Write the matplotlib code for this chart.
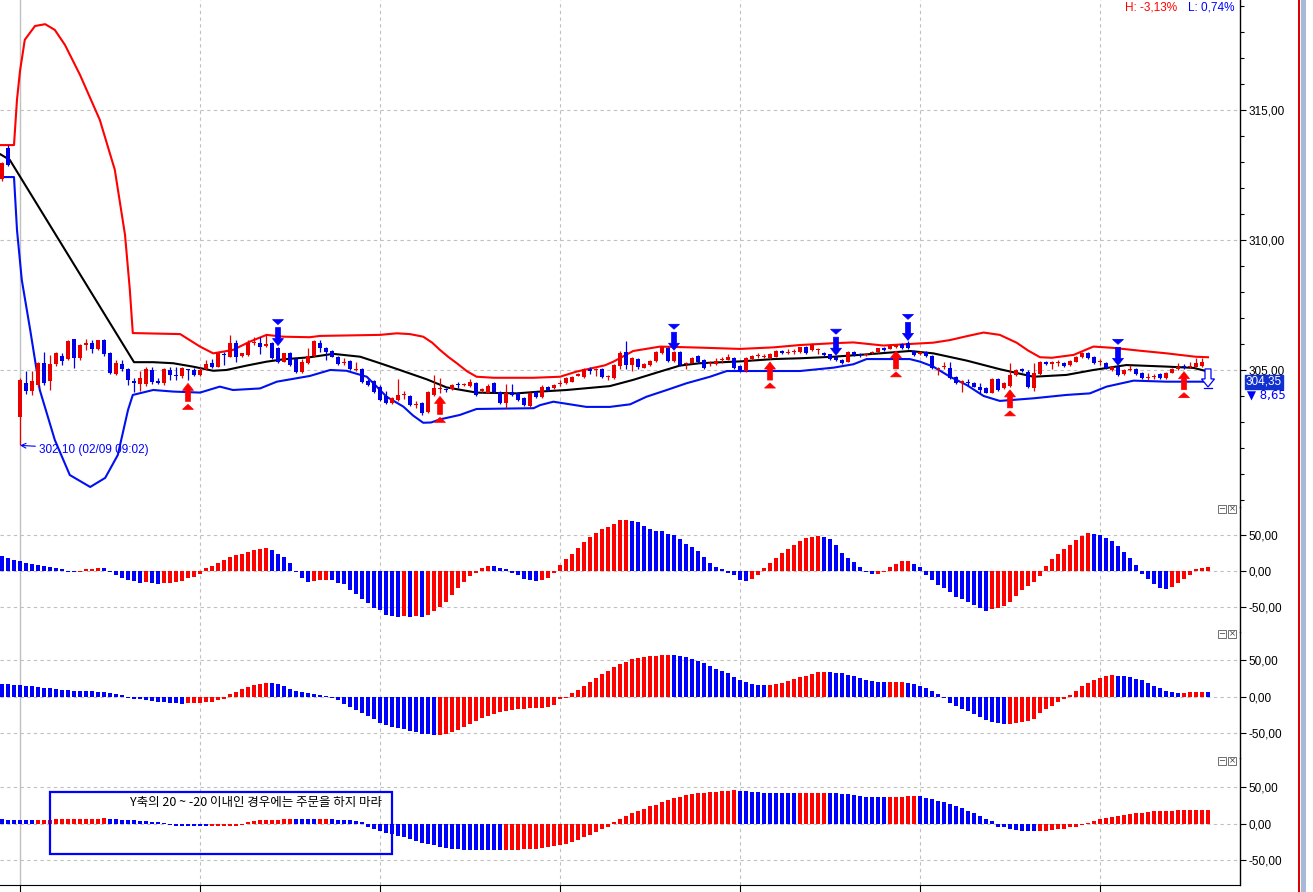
import numpy as np
import matplotlib
matplotlib.use("Agg")
import matplotlib.pyplot as plt
from matplotlib.patches import Polygon, Rectangle
from matplotlib.ticker import FixedLocator, MultipleLocator, FuncFormatter

plt.rcParams['font.family'] = ['Liberation Sans', 'DejaVu Sans']

nan = np.nan

# candles (one per bar, bar 2 and the last slot are empty)
opens = [
    312.35, 313.55, nan, 303.19, 304.49, 304.21, 304.42, 305.26, 304.56, 305.22,
    305.54, 305.41, 306.18, 305.45, 305.95, 306.05, 305.81, 306.15, 305.64, 304.85,
    305.22, 305.03, 304.59, 304.46, 304.46, 305.00, 304.58, 304.49, 305.00, 304.82,
    304.77, 305.02, 305.00, 304.81, 305.03, 305.28, 305.13, 305.62, 305.51, 306.03,
    305.54, 305.58, 306.03, 306.03, 305.94, 306.03, 305.83, 305.32, 305.64, 305.41,
    304.94, 305.26, 305.54, 306.05, 305.83, 305.74, 305.51, 305.28, 305.35, 304.98,
    305.03, 304.59, 304.58, 304.36, 304.00, 303.74, 303.85, 304.02, 304.00, 303.66,
    303.74, 303.40, 304.04, 304.28, 304.25, 304.26, 304.45, 304.42, 304.38, 304.51,
    304.19, 304.13, 304.49, 304.17, 303.72, 304.15, 304.13, 303.91, 303.62, 304.17,
    303.97, 304.36, 304.30, 304.45, 304.49, 304.55, 304.78, 304.74, 305.03, 305.00,
    305.03, 304.72, 304.68, 305.17, 305.70, 305.19, 305.41, 305.09, 305.19, 305.35,
    305.64, 305.83, 305.35, 305.70, 305.22, 305.28, 305.55, 305.38, 305.23, 305.23,
    305.38, 305.40, 305.45, 305.17, 304.96, 305.42, 305.52, 305.50, 305.45, 305.51,
    305.73, 305.66, 305.68, 305.70, 305.90, 305.77, 305.75, 305.67, 305.60, 305.50,
    305.38, 305.32, 305.70, 305.60, 305.58, 305.64, 305.68, 305.86, 305.82, 305.90,
    306.00, 306.05, 305.73, 305.60, 305.68, 305.54, 305.03, 305.10, 305.06, 304.74,
    304.48, 304.55, 304.49, 304.36, 304.29, 304.13, 304.64, 304.29, 304.38, 304.81,
    305.03, 304.94, 304.29, 304.85, 305.32, 305.22, 305.28, 305.28, 305.19, 305.32,
    305.49, 305.64, 305.49, 305.30, 305.28, 305.00, 305.10, 304.85, 304.98, 305.03,
    304.90, 304.70, 304.72, 304.84, 304.68, 304.90, 305.03, 305.15, 305.12, 305.13,
    305.15, nan]
highs = [
    313.00, 313.65, nan, 304.70, 304.97, 304.97, 305.30, 305.70, 305.58, 305.69,
    305.64, 306.15, 306.20, 305.98, 306.20, 306.15, 306.17, 306.20, 305.70, 305.38,
    305.38, 305.08, 304.70, 304.95, 305.12, 305.12, 304.70, 305.08, 305.12, 305.10,
    305.12, 305.04, 305.08, 305.12, 305.38, 305.41, 305.67, 305.70, 306.35, 306.15,
    305.67, 306.15, 306.25, 306.25, 306.40, 306.06, 305.90, 305.67, 305.68, 305.45,
    305.41, 305.85, 306.15, 306.15, 305.87, 305.78, 305.55, 305.45, 305.40, 305.32,
    305.08, 304.65, 304.62, 304.42, 304.20, 303.95, 304.64, 304.20, 304.04, 303.80,
    303.78, 304.20, 304.80, 304.70, 304.30, 304.45, 304.55, 304.50, 304.65, 304.55,
    304.32, 304.45, 304.53, 304.20, 304.45, 304.45, 304.17, 303.95, 304.17, 304.21,
    304.42, 304.40, 304.46, 304.60, 304.72, 304.78, 304.90, 305.07, 305.10, 305.06,
    305.07, 304.82, 305.22, 305.72, 306.10, 305.48, 305.45, 305.26, 305.38, 305.73,
    305.93, 305.87, 305.72, 305.74, 305.30, 305.50, 305.58, 305.42, 305.35, 305.45,
    305.50, 305.62, 305.49, 305.20, 305.49, 305.59, 305.65, 305.62, 305.64, 305.77,
    305.76, 305.80, 305.80, 305.90, 305.93, 306.02, 305.85, 305.70, 305.63, 305.53,
    305.41, 305.72, 305.73, 305.65, 305.66, 305.72, 305.86, 305.90, 305.98, 306.00,
    306.05, 306.10, 305.77, 305.72, 305.72, 305.58, 305.10, 305.30, 305.30, 304.78,
    304.62, 304.65, 304.53, 304.50, 304.33, 304.68, 304.68, 304.52, 305.26, 305.04,
    305.07, 304.98, 305.26, 305.36, 305.36, 305.36, 305.40, 305.32, 305.40, 305.55,
    305.68, 305.68, 305.53, 305.42, 305.32, 305.17, 305.14, 305.04, 305.20, 305.07,
    304.94, 304.90, 304.85, 304.88, 304.94, 305.07, 305.27, 305.22, 305.30, 305.45,
    305.45, nan]
lows = [
    312.25, 312.85, nan, 302.10, 304.08, 304.05, 304.35, 304.42, 304.23, 305.14,
    305.18, 305.38, 305.06, 305.40, 305.75, 305.64, 305.78, 305.55, 304.85, 304.80,
    304.95, 304.42, 304.17, 304.20, 304.40, 304.45, 304.45, 304.42, 304.62, 304.60,
    304.70, 304.60, 304.78, 304.75, 305.00, 305.06, 305.10, 305.20, 305.48, 305.32,
    305.50, 305.54, 305.95, 305.60, 305.90, 305.41, 305.26, 305.29, 305.15, 304.90,
    304.90, 305.22, 305.50, 305.70, 305.40, 305.48, 305.18, 305.18, 305.00, 304.95,
    304.50, 304.38, 304.12, 303.80, 303.70, 303.70, 303.82, 303.90, 303.60, 303.55,
    303.28, 303.36, 304.00, 304.10, 304.15, 304.22, 304.30, 304.38, 304.35, 304.00,
    304.15, 304.10, 304.13, 303.70, 303.55, 304.00, 303.80, 303.60, 303.58, 303.93,
    303.93, 304.20, 304.27, 304.40, 304.46, 304.52, 304.75, 304.70, 304.85, 304.75,
    304.68, 304.60, 304.65, 305.05, 305.05, 304.95, 305.05, 305.06, 305.16, 305.32,
    305.60, 305.32, 305.32, 305.15, 305.05, 305.25, 305.25, 305.02, 305.15, 305.18,
    305.25, 305.37, 305.02, 304.92, 304.93, 305.39, 305.45, 305.45, 305.42, 305.48,
    305.60, 305.60, 305.63, 305.67, 305.63, 305.74, 305.60, 305.55, 305.38, 305.34,
    305.23, 305.29, 305.55, 305.50, 305.52, 305.60, 305.65, 305.72, 305.79, 305.85,
    305.82, 305.80, 305.55, 305.57, 305.50, 305.02, 304.80, 305.05, 304.65, 304.45,
    304.17, 304.40, 304.33, 304.10, 304.10, 304.10, 304.20, 304.26, 304.35, 304.78,
    304.92, 304.30, 304.20, 304.82, 305.18, 305.05, 305.15, 305.12, 305.16, 305.29,
    305.46, 305.42, 305.22, 305.20, 305.02, 304.97, 304.78, 304.82, 304.95, 304.82,
    304.65, 304.60, 304.65, 304.65, 304.65, 304.87, 305.00, 305.05, 305.09, 305.10,
    305.12, nan]
closes = [
    312.95, 312.90, nan, 304.62, 304.21, 304.58, 305.26, 304.49, 305.22, 305.64,
    305.36, 306.13, 305.45, 305.96, 306.02, 305.80, 306.15, 305.60, 304.87, 305.26,
    305.03, 304.62, 304.49, 304.68, 305.03, 304.55, 304.49, 305.03, 304.81, 304.76,
    305.06, 304.98, 304.81, 305.00, 305.23, 305.13, 305.64, 305.58, 306.03, 305.51,
    305.64, 306.03, 306.08, 305.90, 305.98, 305.45, 305.32, 305.64, 305.19, 304.94,
    305.32, 305.54, 306.12, 305.83, 305.71, 305.51, 305.22, 305.32, 305.03, 305.03,
    304.55, 304.42, 304.17, 303.85, 303.74, 303.91, 304.04, 304.06, 303.65, 303.70,
    303.33, 304.17, 304.29, 304.32, 304.22, 304.42, 304.42, 304.46, 304.55, 304.04,
    304.28, 304.38, 304.17, 303.74, 304.10, 304.05, 303.85, 303.65, 304.13, 303.97,
    304.36, 304.23, 304.42, 304.50, 304.68, 304.74, 304.86, 305.03, 304.95, 305.04,
    304.72, 304.76, 305.19, 305.67, 305.19, 305.45, 305.13, 305.22, 305.35, 305.70,
    305.90, 305.35, 305.68, 305.19, 305.27, 305.47, 305.29, 305.06, 305.28, 305.33,
    305.43, 305.50, 305.06, 304.96, 305.45, 305.55, 305.56, 305.55, 305.60, 305.73,
    305.64, 305.70, 305.72, 305.87, 305.67, 305.99, 305.80, 305.58, 305.42, 305.38,
    305.27, 305.68, 305.58, 305.56, 305.62, 305.68, 305.83, 305.75, 305.95, 305.96,
    305.85, 305.85, 305.58, 305.68, 305.55, 305.06, 305.07, 305.15, 304.68, 304.49,
    304.58, 304.49, 304.36, 304.23, 304.13, 304.64, 304.23, 304.49, 304.81, 305.00,
    304.95, 304.36, 304.87, 305.32, 305.22, 305.32, 305.32, 305.15, 305.36, 305.51,
    305.64, 305.45, 305.26, 305.34, 305.06, 305.13, 304.81, 305.00, 305.02, 304.85,
    304.68, 304.74, 304.76, 304.68, 304.90, 305.03, 305.13, 305.12, 305.16, 305.26,
    305.32, nan]

# envelope lines (bar position, price)
upper_pos = [-0.3, 2.0, 2.5, 3.0, 3.8, 5.5, 7.2, 8.8, 10.5, 13.0, 16.3, 18.8, 20.5,
             21.3, 21.8, 29.7, 33.0, 35.2, 38.5, 41.3, 44.1, 46.9, 51.3, 53.0, 63.0,
             65.8, 68.0, 70.2, 71.7, 73.0, 74.4, 75.8, 77.5, 79.1, 82.0, 88.6, 93.0,
             95.8, 100.5, 101.9, 105.2, 109.7, 116.3, 123.0, 128.6, 133.0, 138.6,
             141.9, 146.9, 151.3, 155.2, 158.0, 160.8, 163.6, 166.3, 169.1, 171.0,
             173.0, 175.0, 178.6, 181.9, 185.2, 189.7, 194.1, 198.9, 201.0]
upper_val = [313.65, 313.65, 315.40, 316.50, 317.70, 318.23, 318.30, 318.08, 317.50,
             316.35, 314.62, 312.70, 310.20, 308.10, 306.42, 306.38, 305.90, 305.64,
             305.77, 306.09, 306.35, 306.28, 306.26, 306.31, 306.35, 306.41, 306.38,
             306.28, 306.05, 305.77, 305.50, 305.26, 304.95, 304.74, 304.70, 304.70,
             304.74, 304.94, 305.18, 305.32, 305.73, 305.90, 305.86, 305.81, 305.87,
             305.96, 306.03, 306.06, 305.94, 306.00, 306.05, 306.15, 306.30, 306.44,
             306.35, 306.05, 305.75, 305.49, 305.47, 305.58, 305.90, 305.85, 305.74,
             305.64, 305.51, 305.49]
mid_pos = [-0.3, 1.3, 22.0, 25.2, 28.5, 31.8, 35.2, 37.4, 40.8, 44.1, 46.9, 51.3,
           55.2, 59.7, 63.0, 66.3, 70.8, 74.1, 79.1, 85.8, 89.7, 94.1, 101.3, 105.2,
           109.7, 113.0, 116.3, 123.0, 128.6, 133.0, 138.6, 144.1, 151.3, 155.2,
           160.8, 166.3, 171.9, 177.4, 181.9, 187.4, 194.1, 198.6, 200.5]
mid_val = [313.30, 313.08, 305.30, 305.30, 305.26, 305.13, 304.97, 305.00, 305.17,
           305.32, 305.41, 305.49, 305.62, 305.51, 305.26, 305.00, 304.64, 304.33,
           304.13, 304.10, 304.17, 304.23, 304.38, 304.62, 304.94, 305.17, 305.26,
           305.33, 305.42, 305.45, 305.51, 305.60, 305.73, 305.64, 305.36, 305.03,
           304.74, 304.81, 305.00, 305.19, 305.13, 305.08, 304.97]
lower_pos = [-0.3, 2.0, 2.5, 3.3, 4.7, 6.3, 8.8, 11.3, 14.7, 17.2, 19.3, 21.0, 21.8,
             25.2, 28.5, 33.0, 36.3, 38.5, 43.0, 45.8, 51.3, 54.7, 57.4, 60.8, 62.5,
             64.1, 66.9, 68.5, 70.2, 71.5, 73.0, 76.3, 79.1, 88.6, 89.7, 91.9, 97.4,
             101.3, 104.7, 107.4, 110.8, 114.1, 118.0, 120.8, 133.0, 138.6, 141.9,
             144.1, 151.3, 153.0, 155.2, 158.0, 160.8, 163.6, 166.3, 171.9, 177.4,
             181.3, 184.1, 188.6, 194.1, 199.7, 201.0]
lower_val = [312.42, 312.42, 310.38, 308.46, 306.54, 304.23, 302.31, 300.96, 300.50,
             300.85, 301.73, 303.46, 304.04, 304.23, 304.17, 304.13, 304.36, 304.23,
             304.29, 304.55, 304.77, 305.00, 304.97, 304.74, 304.35, 303.97, 303.59,
             303.25, 302.97, 302.98, 303.10, 303.27, 303.50, 303.53, 303.65, 303.78,
             303.58, 303.58, 303.68, 303.97, 304.23, 304.49, 304.74, 304.96, 304.96,
             305.09, 305.22, 305.42, 305.42, 305.32, 305.13, 304.74, 304.42, 304.00,
             303.81, 303.91, 304.04, 304.10, 304.36, 304.59, 304.55, 304.55, 304.55]

# oscillator histograms
osc1 = [
    20.4, 17.6, 15.3, 13.9, 11.0, 9.6, 8.2, 6.8, 5.4, 4.0,
    2.6, -1.0, -1.5, -1.2, 2.6, 2.8, 4.0, 3.9, -1.5, -5.9,
    -9.6, -12.0, -13.8, -16.2, -15.7, -17.1, -18.5, -17.1, -17.0, -15.7,
    -14.3, -10.1, -8.2, -4.5, 4.0, 6.8, 11.0, 15.3, 19.5, 22.3,
    23.7, 26.5, 29.3, 30.8, 32.2, 29.3, 23.7, 19.5, 11.0, -1.5,
    -10.1, -15.3, -13.9, -12.9, -12.8, -13.0, -16.2, -18.5, -26.3, -32.2,
    -39.2, -44.8, -51.0, -54.7, -60.4, -62.7, -63.2, -63.0, -63.3, -63.1,
    -63.4, -61.7, -56.1, -50.5, -43.4, -33.6, -23.7, -15.3, -6.8, -2.6,
    4.0, 6.8, 6.7, 4.0, 2.6, -2.1, -5.4, -11.5, -12.4, -13.8,
    -12.4, -10.1, -2.6, 8.2, 16.7, 23.7, 32.2, 40.6, 47.7, 53.3,
    58.9, 61.7, 65.9, 70.2, 70.3, 70.1, 67.4, 63.1, 58.9, 56.1,
    56.0, 51.9, 50.5, 44.8, 37.8, 33.6, 27.9, 19.5, 11.0, 5.4,
    2.6, -2.1, -5.4, -12.4, -13.8, -11.5, -5.9, 4.0, 11.0, 18.1,
    25.1, 30.8, 36.4, 42.0, 46.2, 47.7, 49.1, 47.6, 44.8, 36.4,
    25.1, 18.1, 12.4, 5.4, -2.0, -4.0, -3.5, -2.0, 5.4, 9.6,
    13.9, 14.0, 9.6, 5.4, -5.4, -12.9, -20.0, -23.7, -29.3, -36.4,
    -39.2, -43.4, -47.7, -51.9, -56.1, -53.3, -51.9, -49.1, -43.4, -35.0,
    -26.5, -20.9, -14.8, -6.8, 7.3, 16.7, 23.7, 30.8, 36.4, 43.4,
    49.1, 53.3, 51.9, 49.5, 46.2, 42.0, 35.0, 26.5, 18.1, 8.2,
    -4.0, -11.0, -18.1, -23.7, -25.1, -22.3, -16.7, -11.0, -5.4, 2.6,
    4.0, 5.4]
osc2 = [
    17.8, 17.7, 16.4, 16.3, 15.1, 15.0, 13.7, 12.3, 12.2, 11.0,
    9.6, 9.5, 8.2, 8.1, 8.0, 7.9, 6.8, 6.7, 5.5, 4.1,
    2.7, -1.4, -2.3, -2.4, -3.7, -5.0, -6.4, -6.5, -7.8, -7.9,
    -9.1, -7.8, -7.7, -7.6, -6.4, -6.3, -3.7, -2.3, 4.6, 7.3,
    11.4, 14.2, 16.9, 18.3, 19.6, 19.5, 18.3, 15.5, 11.4, 8.7,
    7.3, 5.9, 4.6, 3.2, 1.4, -1.4, -4.1, -9.1, -13.2, -17.4,
    -21.5, -25.6, -29.7, -35.2, -37.9, -41.0, -43.0, -44.5, -46.5, -47.9,
    -50.5, -51.4, -51.9, -51.8, -50.4, -47.6, -44.8, -40.6, -36.4, -33.6,
    -29.4, -26.6, -23.8, -21.0, -19.6, -18.2, -16.8, -16.6, -15.4, -15.3,
    -15.2, -14.0, -11.2, -2.8, -0.9, 5.6, 9.8, 15.4, 21.0, 26.6,
    30.8, 35.0, 40.6, 44.8, 47.6, 51.8, 53.2, 54.6, 56.0, 56.1,
    57.4, 57.5, 57.4, 56.0, 54.6, 51.8, 49.0, 46.2, 42.0, 37.8,
    35.0, 32.2, 28.0, 23.8, 21.0, 18.2, 16.8, 16.7, 16.8, 18.2,
    19.6, 22.0, 24.5, 26.8, 29.2, 32.0, 33.8, 33.9, 33.8, 32.9,
    32.8, 30.1, 28.8, 26.0, 23.3, 21.9, 20.5, 20.4, 20.5, 20.6,
    20.7, 19.2, 17.8, 15.1, 12.3, 8.2, 4.1, -1.4, -7.8, -11.9,
    -16.0, -18.7, -22.8, -26.9, -31.1, -33.8, -35.2, -36.5, -36.4, -35.2,
    -33.8, -32.4, -29.7, -21.5, -16.0, -11.9, -6.4, -2.3, 3.2, 8.2,
    15.1, 19.2, 23.3, 26.0, 28.8, 30.1, 28.8, 28.7, 27.4, 24.7,
    23.3, 19.2, 15.1, 12.3, 8.2, 6.8, 5.5, 5.6, 6.8, 6.9,
    7.0, 6.8]
osc3 = [
    6.2, 6.1, 6.0, 5.9, 5.8, 5.7, 5.9, 6.0, 6.1, 6.2,
    6.3, 6.4, 6.5, 6.6, 6.7, 7.4, 7.5, 7.6, 7.5, 7.4,
    6.0, 5.1, 5.0, 3.7, 3.6, 2.3, 2.2, 1.4, -2.0, -2.5,
    -2.8, -3.0, -3.2, -3.3, -3.4, -3.3, -3.2, -3.0, -2.8, -2.6,
    -2.0, 2.3, 3.7, 5.1, 5.2, 6.0, 6.1, 7.4, 7.5, 7.4,
    7.3, 7.2, 7.1, 7.2, 7.3, 7.2, 6.0, 5.9, 5.1, 3.7,
    2.3, -4.1, -6.9, -9.6, -11.8, -14.2, -16.5, -18.4, -21.1, -23.9,
    -25.7, -27.5, -29.4, -32.1, -33.0, -34.0, -34.9, -35.0, -35.8, -35.9,
    -36.0, -36.1, -36.2, -36.3, -36.2, -36.1, -35.0, -34.9, -34.0, -33.9,
    -33.0, -32.1, -30.3, -29.4, -27.5, -24.8, -22.0, -18.4, -14.7, -11.0,
    -7.3, -3.7, 2.8, 7.3, 11.0, 14.7, 17.4, 21.1, 24.8, 26.6,
    30.3, 33.0, 35.8, 37.6, 39.5, 40.4, 42.2, 43.1, 43.2, 44.1,
    45.0, 45.1, 45.9, 45.0, 44.6, 44.1, 43.6, 43.1, 42.8, 42.5,
    42.3, 42.1, 41.9, 42.0, 42.2, 42.5, 42.8, 43.1, 43.0, 42.2,
    41.3, 40.4, 39.5, 38.6, 37.6, 37.5, 37.4, 37.3, 37.4, 37.5,
    37.6, 37.7, 37.8, 37.7, 35.8, 34.0, 32.1, 30.3, 27.5, 24.8,
    22.0, 18.4, 14.7, 11.0, 7.3, 3.7, -3.7, -4.6, -6.4, -8.3,
    -9.2, -10.1, -10.2, -10.0, -9.2, -8.3, -7.3, -6.4, -4.6, -3.7,
    -1.8, 0.8, 4.6, 6.4, 8.3, 9.2, 11.0, 12.9, 13.8, 14.7,
    15.6, 16.5, 17.4, 17.5, 17.6, 18.4, 18.5, 19.3, 19.4, 19.5,
    19.6, 19.7]

buy_bars = [31, 73, 128, 149, 168, 197]
sell_bars = [46, 112, 139, 151, 186]
pending_bar, pending_level = 201, 305.04
low_bar, low_label = 3, "302,10 (02/09 09:02)"

price_ticks = [305, 310, 315]
osc_ticks = [-50, 0, 50]
grid_bars = [33, 63, 93, 123, 153, 183]
first_bar_line = 3

RED, BLUE = '#ff0000', '#0000ff'
C_RED, C_BLUE = '#e80000', '#0000e6'
GRID = '#c0c0c0'

W, H = 1313, 892
fig = plt.figure(figsize=(W / 100, H / 100), dpi=100)
fig.patch.set_facecolor('white')


def box(x0, y0, x1, y1):
    return [x0 / W, 1 - y1 / H, (x1 - x0) / W, (y1 - y0) / H]


XMIN, XMAX = -1 / 3, 206 + 1 / 3
PMIN, PMAX = 299.73, 319.23
AX_R = 1240

ax_p = fig.add_axes(box(0, 0, AX_R, 507))
ax1 = fig.add_axes(box(0, 507, AX_R, 632))
ax2 = fig.add_axes(box(0, 632, AX_R, 758))
ax3 = fig.add_axes(box(0, 758, AX_R, 885))

ax_p.set_ylim(PMIN, PMAX)
ax1.set_ylim(-84.7, 88.9)
ax2.set_ylim(-83.6, 89.0)
ax3.set_ylim(-83.6, 90.4)

fmt = FuncFormatter(lambda v, pos: f"{v:.2f}".replace(".", ","))

for ax in (ax_p, ax1, ax2, ax3):
    ax.set_xlim(XMIN, XMAX)
    ax.set_facecolor('none')
    for s in ('left', 'top', 'bottom'):
        ax.spines[s].set_visible(False)
    ax.spines['right'].set_color('black')
    ax.spines['right'].set_linewidth(1.0)
    ax.yaxis.tick_right()
    ax.yaxis.set_major_formatter(fmt)
    ax.tick_params(axis='y', direction='out', length=4, width=0.8,
                   labelsize=8.5, pad=2, colors='black')
    ax.tick_params(axis='x', bottom=False, labelbottom=False)
    ax.axvline(first_bar_line, color=GRID, lw=1.0, zorder=0)
    for b in grid_bars:
        ax.axvline(b, color=GRID, lw=0.8, ls=(0, (3, 3)), zorder=0)

ax_p.yaxis.set_major_locator(FixedLocator(price_ticks))
ax_p.yaxis.set_minor_locator(MultipleLocator(1))
ax_p.tick_params(axis='y', which='minor', direction='out', length=3, width=0.8)
for t in price_ticks:
    ax_p.axhline(t, color=GRID, lw=0.8, ls=(0, (3, 3)), zorder=0)
for ax in (ax1, ax2, ax3):
    ax.yaxis.set_major_locator(FixedLocator(osc_ticks))
    for t in osc_ticks:
        ax.axhline(t, color=GRID, lw=0.8, ls=(0, (3, 3)), zorder=0)

ax3.spines['bottom'].set_visible(True)
ax3.spines['bottom'].set_color('black')
ax3.xaxis.set_major_locator(FixedLocator([first_bar_line] + grid_bars))
ax3.tick_params(axis='x', bottom=True, direction='out', length=5, width=0.8,
                labelbottom=False)

PX_X = (XMAX - XMIN) / AX_R
PX_Y = (PMAX - PMIN) / 507

# envelope
ax_p.plot(upper_pos, upper_val, color=RED, lw=1.5, zorder=2)
ax_p.plot(mid_pos, mid_val, color='black', lw=1.5, zorder=2)
ax_p.plot(lower_pos, lower_val, color='#0010f0', lw=1.5, zorder=2)

# candles
o = np.array(opens)
h = np.array(highs)
l = np.array(lows)
c = np.array(closes)
idx = np.arange(len(o))
ok = ~np.isnan(o)
up = c > o
ccol = np.where(up, C_RED, C_BLUE)
ax_p.vlines(idx[ok], l[ok], h[ok], colors=ccol[ok], lw=0.9, zorder=3)
bottom = np.minimum(o, c)
height = np.maximum(np.abs(c - o), PX_Y * 1.2)
ax_p.bar(idx[ok], height[ok], bottom=bottom[ok], width=0.67, color=ccol[ok],
         linewidth=0, zorder=4)


def signal(ax, xc, tip, pointing_up, color):
    d = 1 if pointing_up else -1

    def pt(dx, dy):
        return (xc + dx * PX_X, tip - d * dy * PX_Y)
    head = [pt(0, 0), pt(-5.5, 7), pt(-2.5, 7), pt(-2.5, 18), pt(2.5, 18),
            pt(2.5, 7), pt(5.5, 7)]
    ax.add_patch(Polygon(head, closed=True, fc=color, ec=color, lw=0.5, zorder=6))
    tri = [pt(0, 21), pt(-5.5, 26), pt(5.5, 26)]
    ax.add_patch(Polygon(tri, closed=True, fc=color, ec=color, lw=0.5, zorder=6))


for b in buy_bars:
    signal(ax_p, b, lows[b] - 3 * PX_Y, True, RED)
for b in sell_bars:
    signal(ax_p, b, highs[b] + 1 * PX_Y, False, BLUE)

# hollow pending arrow
hx, hy = pending_bar, pending_level
hol = [(hx - 3 * PX_X, hy), (hx + 3 * PX_X, hy), (hx + 3 * PX_X, hy - 10 * PX_Y),
       (hx + 6.5 * PX_X, hy - 10 * PX_Y), (hx, hy - 18 * PX_Y),
       (hx - 6.5 * PX_X, hy - 10 * PX_Y), (hx - 3 * PX_X, hy - 10 * PX_Y)]
ax_p.add_patch(Polygon(hol, closed=True, fc='white', ec=BLUE, lw=0.9, zorder=7))
ax_p.plot([hx - 4 * PX_X, hx + 4 * PX_X], [hy - 19.5 * PX_Y] * 2, color=BLUE,
          lw=0.9, zorder=7)

# low annotation
ax_p.annotate(low_label, xy=(low_bar, lows[low_bar]), xytext=(14, -3),
              textcoords='offset points', color=BLUE, fontsize=8.5,
              va='center', ha='left',
              arrowprops=dict(arrowstyle='->', color=BLUE, lw=0.8,
                              shrinkA=1, shrinkB=0))

# oscillators
for ax, vals in ((ax1, osc1), (ax2, osc2), (ax3, osc3)):
    v = np.array(vals)
    cols = [BLUE] + [RED if v[i] > v[i - 1] else BLUE for i in range(1, len(v))]
    ax.bar(np.arange(len(v)), v, width=0.67, color=cols, linewidth=0, zorder=3)

# note box on the last panel
ax3.add_patch(Rectangle((8.0, -41.1), 57.0, 84.9, fill=False, ec=BLUE, lw=1.6,
                        zorder=5))
ax3.text(21.3, 28.8, "Y축의 20 ~ -20 이내인 경우에는 주문을 하지 마라",
         family=['Noto Sans CJK KR', 'DejaVu Sans'], fontsize=9, color='black',
         va='center', ha='left', zorder=6)


def fx(x):
    return x / W


def fy(y):
    return 1 - y / H


# header values
fig.text(fx(1125), fy(8), "H: -3,13%", color=RED, fontsize=8.5, va='center')
fig.text(fx(1188), fy(8), "L: 0,74%", color=BLUE, fontsize=8.5, va='center')

# right-axis price badges
fig.text(fx(1246), fy(382), "304,35", color='white', fontsize=8.5, va='center',
         bbox=dict(boxstyle='square,pad=0.05', fc='#1030d0', ec='#1030d0'))
fig.text(fx(1247), fy(395), "▼ 8,65", color=BLUE, fontsize=8.5, va='center',
         family=['DejaVu Sans'])

# panel buttons
for ytop in (505, 630, 757):
    for x0, glyph in ((1218, '−'), (1228, '×')):
        fig.add_artist(Rectangle((fx(x0), fy(ytop + 8)), 8 / W, 8 / H, fill=False,
                                 ec='#707070', lw=0.7, transform=fig.transFigure))
        fig.text(fx(x0 + 4), fy(ytop + 4), glyph, fontsize=6, color='#404040',
                 ha='center', va='center', family=['DejaVu Sans'])

# window chrome on the right
fig.add_artist(Rectangle((fx(1298), 0), 2 / W, 1, color='#e00000', lw=0,
                         transform=fig.transFigure))
fig.add_artist(Rectangle((fx(1301), 0), 5 / W, 1, color='#a8b8d8', lw=0,
                         transform=fig.transFigure))

fig.savefig("out.png", dpi=100, facecolor='white')
